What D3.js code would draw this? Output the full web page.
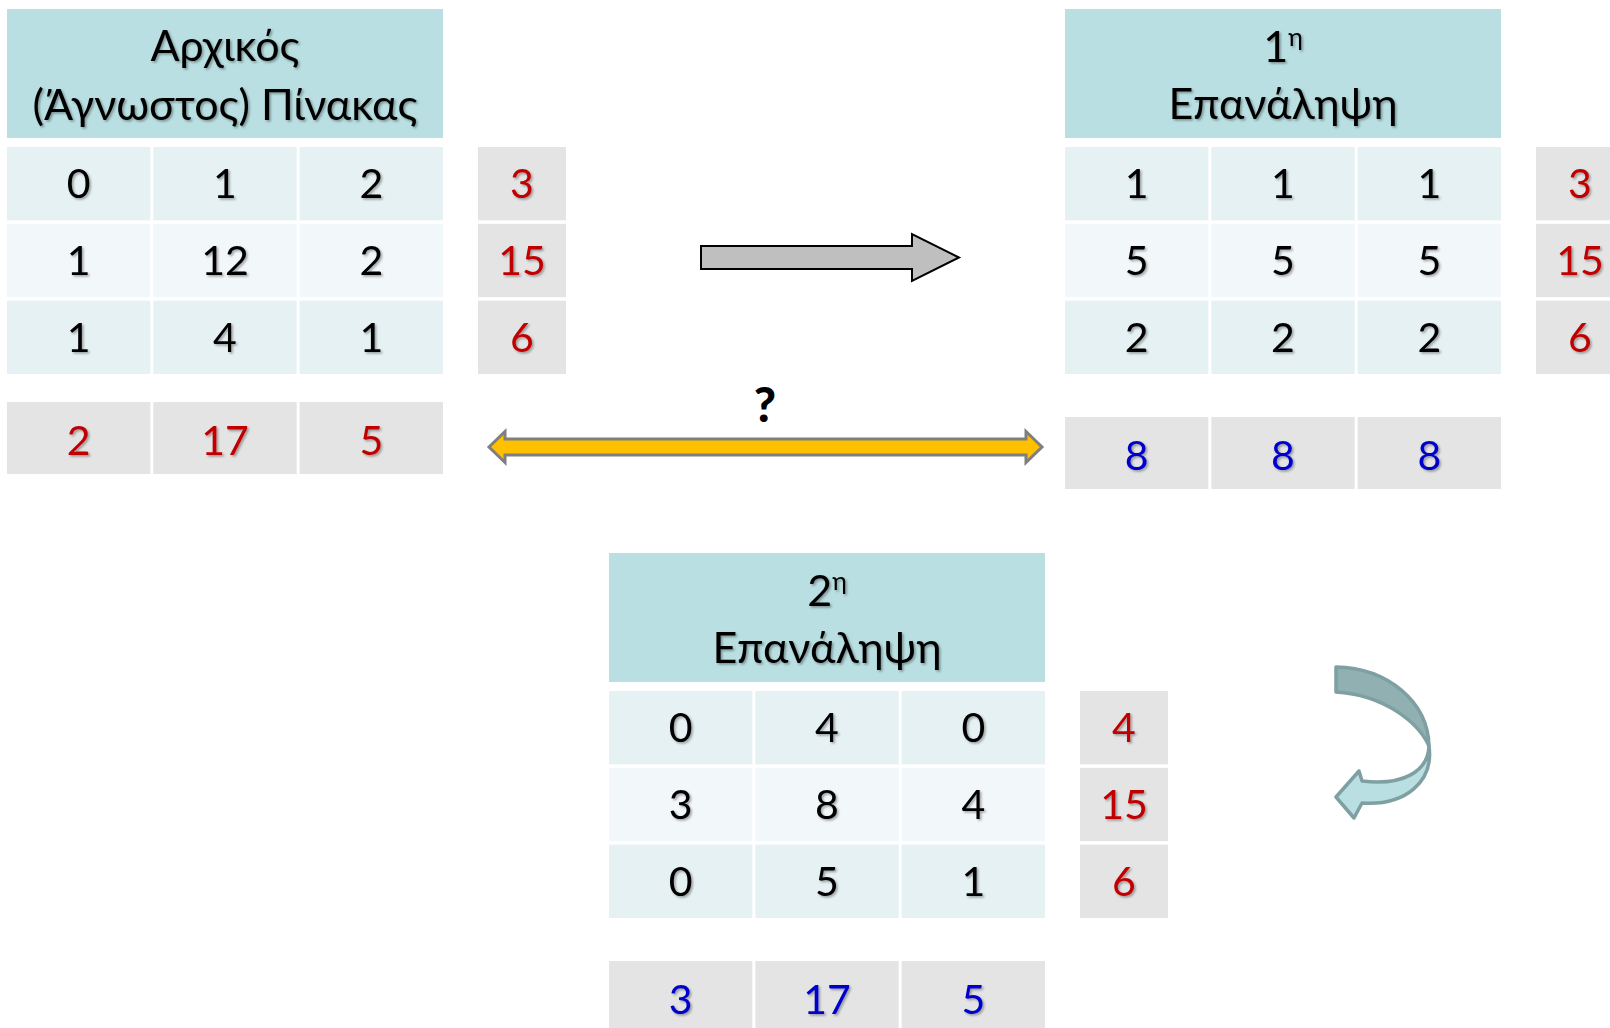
<!DOCTYPE html>
<html><head><meta charset="utf-8">
<script src="https://cdn.jsdelivr.net/npm/d3@7"></script>
<style>
html,body{margin:0;padding:0;background:#fff;}
svg{display:block;}
text{font-family:Lato,"Open Sans","Noto Sans",sans-serif;}
</style></head>
<body>
<svg id="c" width="1610" height="1028"></svg>
<script>
// ---- data ----
const rowIdx = [0, 1, 2];
const colIdx = [0, 1, 2];
const titleInitial = ["Αρχικός", "(Άγνωστος) Πίνακας"];
const titleIter1 = ["1", "η", "Επανάληψη"];
const titleIter2 = ["2", "η", "Επανάληψη"];
const initialMatrix = [[0, 1, 2], [1, 12, 2], [1, 4, 1]];
const initialRowSums = [3, 15, 6];
const initialColSums = [2, 17, 5];
const iter1Matrix = [[1, 1, 1], [5, 5, 5], [2, 2, 2]];
const iter1RowSums = [3, 15, 6];
const iter1ColSums = [8, 8, 8];
const iter2Matrix = [[0, 4, 0], [3, 8, 4], [0, 5, 1]];
const iter2RowSums = [4, 15, 6];
const iter2ColSums = [3, 17, 5];
const questionLabel = "?";

// ---- layout / style ----
const C = {
  header: "#B9DFE2", rowA: "#E6F1F3", rowB: "#F2F7F9", grey: "#E4E4E4",
  red: "#C00000", blue: "#0000CC", black: "#000"
};
const FS = 41;
const HFS = 43;
const svg = d3.select("#c");
const defs = svg.append("defs");
const f = defs.append("filter").attr("id", "sh").attr("x", "-20%").attr("y", "-20%").attr("width", "140%").attr("height", "140%");
f.append("feDropShadow").attr("dx", 1.6).attr("dy", 1.6).attr("stdDeviation", 1).attr("flood-color", "#000").attr("flood-opacity", 0.35);

function drawTable(cfg) {
  const g = svg.append("g");
  const x = d3.scaleBand().domain(colIdx).range([cfg.x0, cfg.x0 + 436]).paddingInner(0.02);
  const y = d3.scaleBand().domain(rowIdx).range([cfg.y0 + 138, cfg.y0 + 365]).paddingInner(0.045);
  // header
  g.append("rect").attr("x", cfg.x0).attr("y", cfg.y0).attr("width", 436).attr("height", 129).attr("fill", C.header);
  const cx = cfg.x0 + 218;
  if (cfg.title.length === 2) {
    g.append("text").attr("x", cx).attr("y", cfg.y0 + 52).attr("text-anchor", "middle").attr("font-size", HFS).attr("filter", "url(#sh)").text(cfg.title[0]);
    g.append("text").attr("x", cx).attr("y", cfg.y0 + 111).attr("text-anchor", "middle").attr("font-size", HFS).attr("filter", "url(#sh)").text(cfg.title[1]);
  } else {
    const t = g.append("text").attr("x", cx).attr("y", cfg.y0 + 53).attr("text-anchor", "middle").attr("font-size", HFS).attr("filter", "url(#sh)");
    t.append("tspan").text(cfg.title[0]);
    t.append("tspan").attr("font-size", 25).attr("dy", -16).text(cfg.title[1]);
    g.append("text").attr("x", cx).attr("y", cfg.y0 + 110).attr("text-anchor", "middle").attr("font-size", HFS).attr("filter", "url(#sh)").text(cfg.title[2]);
  }
  // matrix cells
  cfg.matrix.forEach((row, r) => {
    row.forEach((v, c) => {
      g.append("rect").attr("x", x(c)).attr("y", y(r)).attr("width", x.bandwidth()).attr("height", y.bandwidth())
        .attr("fill", r === 1 ? C.rowB : C.rowA);
      g.append("text").attr("x", x(c) + x.bandwidth() / 2).attr("y", y(r) + y.bandwidth() / 2).attr("dy", "0.36em")
        .attr("text-anchor", "middle").attr("font-size", FS).attr("fill", C.black).attr("filter", "url(#sh)").text(v);
    });
  });
  // row sums
  const sx = cfg.x0 + 471;
  cfg.rowSums.forEach((v, r) => {
    g.append("rect").attr("x", sx).attr("y", y(r)).attr("width", 88).attr("height", y.bandwidth()).attr("fill", C.grey);
    g.append("text").attr("x", sx + 44).attr("y", y(r) + y.bandwidth() / 2).attr("dy", "0.36em")
      .attr("text-anchor", "middle").attr("font-size", FS).attr("fill", C.red).attr("filter", "url(#sh)").text(v);
  });
  // col sums
  const sy = cfg.y0 + 365 + cfg.sumGap;
  cfg.colSums.forEach((v, c) => {
    g.append("rect").attr("x", x(c)).attr("y", sy).attr("width", x.bandwidth()).attr("height", 72).attr("fill", C.grey);
    g.append("text").attr("x", x(c) + x.bandwidth() / 2).attr("y", sy + 38).attr("dy", "0.36em")
      .attr("text-anchor", "middle").attr("font-size", FS).attr("fill", cfg.colColor).attr("filter", "url(#sh)").text(v);
  });
}

drawTable({x0: 7, y0: 9, title: titleInitial, matrix: initialMatrix, rowSums: initialRowSums, colSums: initialColSums, sumGap: 28, colColor: C.red});
drawTable({x0: 1065, y0: 9, title: titleIter1, matrix: iter1Matrix, rowSums: iter1RowSums, colSums: iter1ColSums, sumGap: 43, colColor: C.blue});
drawTable({x0: 609, y0: 553, title: titleIter2, matrix: iter2Matrix, rowSums: iter2RowSums, colSums: iter2ColSums, sumGap: 43, colColor: C.blue});

// grey right arrow
svg.append("path")
  .attr("d", "M701,246 L912,246 L912,234 L959,257.5 L912,281 L912,269 L701,269 Z")
  .attr("fill", "#BFBFBF").attr("stroke", "#000").attr("stroke-width", 2);

// yellow double arrow
svg.append("path")
  .attr("d", "M489,447 L505,431.5 L505,439 L1026,439 L1026,431.5 L1042,447 L1026,462.5 L1026,455 L505,455 L505,462.5 Z")
  .attr("fill", "#FFC000").attr("stroke", "#7F7F7F").attr("stroke-width", 3).attr("stroke-linejoin", "miter");
svg.append("text").attr("x", 765).attr("y", 422).attr("text-anchor", "middle").attr("font-size", 48).attr("font-weight", 900)
  .attr("font-family", "'Open Sans',sans-serif").text(questionLabel);

// curved arrow
svg.append("path")
  .attr("d", "M1336,667 C1388,668 1428,702 1429,746 C1418,722 1384,695 1336,692 Z")
  .attr("fill", "#90B0B2").attr("stroke", "#7FA0A2").attr("stroke-width", 3.5).attr("stroke-linejoin", "round");
svg.append("path")
  .attr("d", "M1429,746 C1428,772 1402,786 1362,781 L1359,771 L1336,797 L1354,818 L1362,803 C1405,806 1434,782 1429,746 Z")
  .attr("fill", "#B9DFE2").attr("stroke", "#7FA0A2").attr("stroke-width", 3.5).attr("stroke-linejoin", "round");
</script>
</body></html>
